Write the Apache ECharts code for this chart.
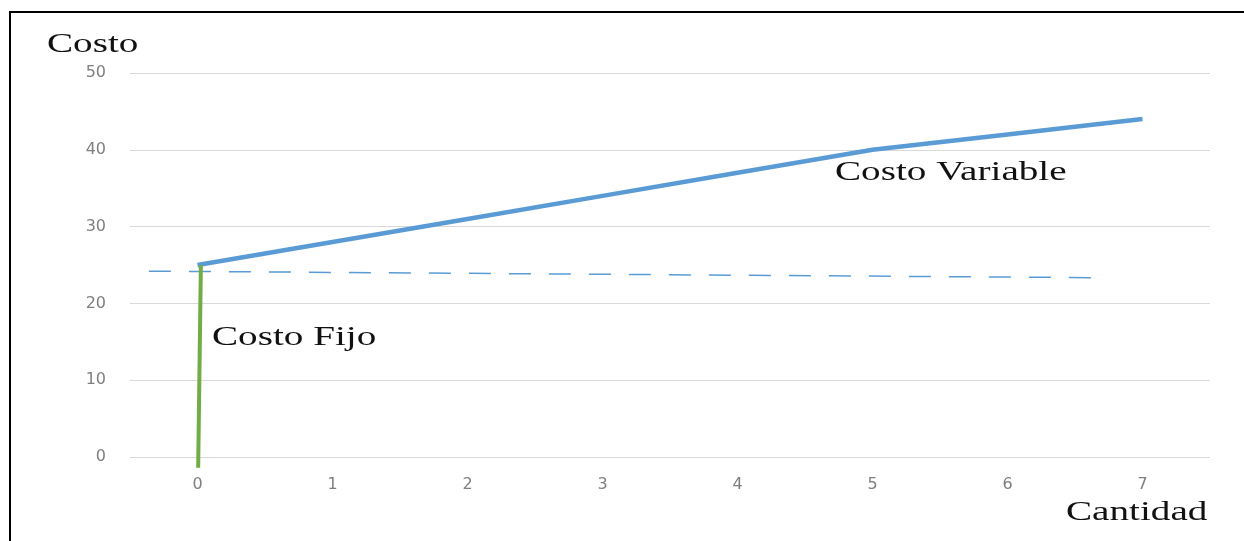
<!DOCTYPE html>
<html>
<head>
<meta charset="utf-8">
<script src="https://cdn.jsdelivr.net/npm/echarts@6/dist/echarts.min.js"></script>
<style>
  html, body { margin: 0; padding: 0; background: #fff; }
  #chart { width: 1244px; height: 541px; }
  #frame { position: absolute; left: 9px; top: 11px; width: 1400px; height: 700px;
           border-top: 2px solid #000; border-left: 2px solid #000; pointer-events: none; }
</style>
</head>
<body>
<div id="chart"></div>
<div id="frame"></div>
<script>
// Data
const categories = ['0', '1', '2', '3', '4', '5', '6', '7'];
const costoVariable = [25, 28, 31, 34, 37, 40, 42, 44];
const costoFijoLine = [[0.005, -1.4], [0.025, 25]];
const referenciaDashed = [[-0.36, 24.2], [6.65, 23.35]];
const yTicks = { min: 0, max: 50, interval: 10 };
const labels = {
  yName: 'Costo',
  xName: 'Cantidad',
  variable: 'Costo Variable',
  fijo: 'Costo Fijo'
};

const chart = echarts.init(document.getElementById('chart'), null, { renderer: 'canvas' });
const serif = { fontFamily: 'Liberation Serif', fontSize: 27, fill: '#111' };

function label(text, x, y) {
  return {
    type: 'text', x: x, y: y, scaleX: 1.45,
    style: Object.assign({ text: text, align: 'left', verticalAlign: 'top' }, serif)
  };
}

chart.setOption({
  backgroundColor: '#fff',
  animation: false,
  grid: { left: 130, right: 34, top: 73, bottom: 84 },
  xAxis: [
    {
      type: 'category',
      data: categories,
      boundaryGap: true,
      axisLine: { show: false },
      axisTick: { show: false },
      axisLabel: { color: '#7f7f7f', fontSize: 16, fontFamily: 'DejaVu Sans', margin: 20 },
      splitLine: { show: false }
    },
    {
      type: 'value',
      min: -0.5,
      max: 7.5,
      show: false
    }
  ],
  yAxis: {
    type: 'value',
    min: yTicks.min,
    max: yTicks.max,
    interval: yTicks.interval,
    axisLine: { show: false },
    axisTick: { show: false },
    axisLabel: { color: '#7f7f7f', fontSize: 16, fontFamily: 'DejaVu Sans', margin: 24 },
    splitLine: { lineStyle: { color: '#d9d9d9', width: 1 } }
  },
  series: [
    {
      type: 'line',
      xAxisIndex: 1,
      data: referenciaDashed,
      symbol: 'none',
      lineStyle: { color: '#5b9bd5', width: 1.5, type: [22, 18] },
      z: 2
    },
    {
      type: 'line',
      xAxisIndex: 0,
      data: costoVariable,
      symbol: 'none',
      lineStyle: { color: '#5b9bd5', width: 4.5 },
      z: 3
    },
    {
      type: 'line',
      xAxisIndex: 1,
      data: costoFijoLine,
      symbol: 'none',
      clip: false,
      lineStyle: { color: '#70ad47', width: 4 },
      z: 4
    }
  ],
  graphic: [
    label(labels.yName, 47, 31),
    label(labels.variable, 835, 159),
    label(labels.fijo, 212, 324),
    label(labels.xName, 1066, 499)
  ]
});
</script>
</body>
</html>
